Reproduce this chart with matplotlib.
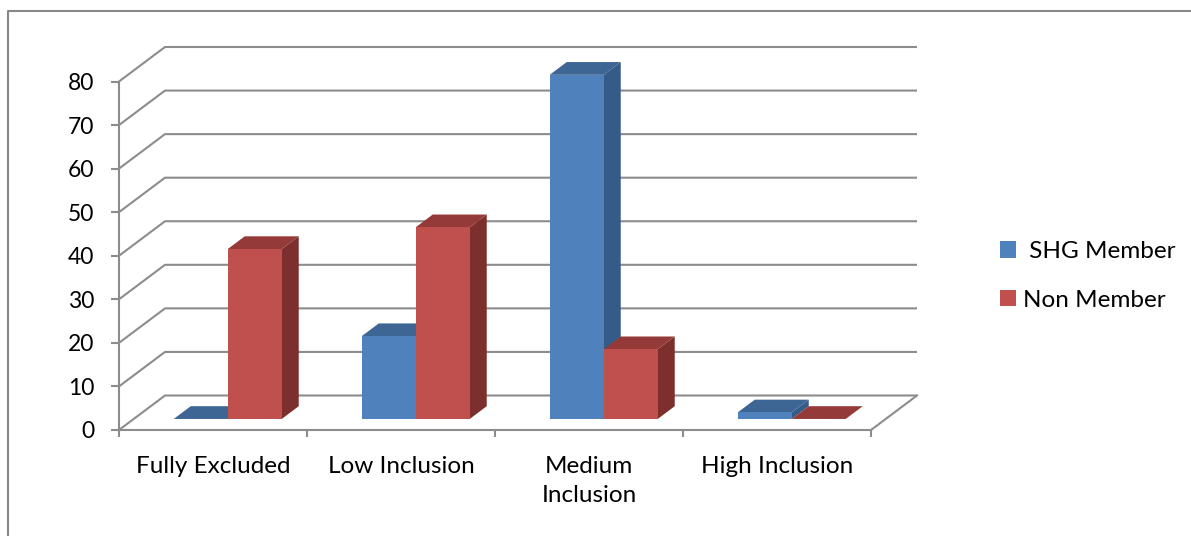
import matplotlib
matplotlib.use('Agg')
import matplotlib.pyplot as plt
from matplotlib.patches import Polygon, Patch
from matplotlib.lines import Line2D

# chart data
categories = ['Fully Excluded', 'Low Inclusion', 'Medium\nInclusion', 'High Inclusion']
shg_member = [0, 19, 79, 1.5]
non_member = [39, 44, 16, 0]
y_ticks = [0, 10, 20, 30, 40, 50, 60, 70, 80]
series_names = [' SHG Member', 'Non Member']

plt.rcParams['font.family'] = ['Lato', 'DejaVu Sans']
plt.rcParams['font.size'] = 17

W, H = 1191, 536
fig = plt.figure(figsize=(W / 100, H / 100), dpi=100)
ax = fig.add_axes([0, 0, 1, 1])

# pixel layout of the plot box (front axis x 119..871, value 0 at y 430, 80 at y 81.5)
x0_px, x1_px = 119, 871
y0_px, y80_px = 430, 81.5
ux = len(categories) / (x1_px - x0_px)       # category units per pixel
uy = (y0_px - y80_px) / 80.0                 # pixels per value unit
ax.set_xlim(-x0_px * ux, (W - x0_px) * ux)
ax.set_ylim(-(H - y0_px) / uy, y0_px / uy)

# depth of the 3d box
ddx = 46 * ux
ddy = 34.5 / uy
grid_col = '#8c8c8c'
lw = 1.5

# back wall gridlines with the left-wall diagonal
n = len(categories)
for g in y_ticks:
    ax.plot([0, ddx, n + ddx], [g, g + ddy, g + ddy], color=grid_col, lw=lw,
            solid_capstyle='butt', zorder=1)
# floor right edge
ax.plot([n, n + ddx], [0, ddy], color=grid_col, lw=lw, zorder=1)

# bars
f0, f1 = 0.32, 0.69
bw = 54 * ux
colors = [('#4F81BD', '#3D6694', '#355B88'), ('#C0504D', '#943A38', '#7C2F2D')]
for i in range(n):
    for s, vals in enumerate([shg_member, non_member]):
        v = vals[i]
        front, top, side = colors[s]
        xl = i + 0.5 + f0 * ddx + (s - 1) * bw
        xr = xl + bw
        yb = f0 * ddy
        yt = yb + v
        bx = (f1 - f0) * ddx
        by = (f1 - f0) * ddy
        ax.add_patch(Polygon([(xr, yb), (xr, yt), (xr + bx, yt + by), (xr + bx, yb + by)],
                             closed=True, facecolor=side, edgecolor='none', zorder=3))
        ax.add_patch(Polygon([(xl, yt), (xr, yt), (xr + bx, yt + by), (xl + bx, yt + by)],
                             closed=True, facecolor=top, edgecolor='none', zorder=3))
        ax.add_patch(Polygon([(xl, yb), (xr, yb), (xr, yt), (xl, yt)],
                             closed=True, facecolor=front, edgecolor='none', zorder=3))

# front axes
for sp in ['top', 'right']:
    ax.spines[sp].set_visible(False)
ax.spines['left'].set_position(('data', 0))
ax.spines['left'].set_bounds(0, 80)
ax.spines['bottom'].set_position(('data', 0))
ax.spines['bottom'].set_bounds(0, n)
for sp in ['left', 'bottom']:
    ax.spines[sp].set_color(grid_col)
    ax.spines[sp].set_linewidth(lw)
    ax.spines[sp].set_zorder(2)

ax.set_yticks(y_ticks)
ax.set_yticklabels([str(t) for t in y_ticks])
ax.tick_params(axis='y', length=6, width=lw, color=grid_col, pad=12, labelsize=16.5)
ax.set_xticks(range(n + 1))
ax.set_xticklabels([''] * (n + 1))
ax.set_xticks([i + 0.5 for i in range(n)], minor=True)
ax.set_xticklabels(categories, minor=True, linespacing=1.45)
ax.tick_params(axis='x', which='major', length=5, width=lw, color=grid_col, direction='out')
ax.tick_params(axis='x', which='minor', length=0, pad=19, labelsize=17.5)

# legend
handles = [Patch(facecolor=colors[0][0]), Patch(facecolor=colors[1][0])]
fig.legend(handles, series_names, loc='center left',
           bbox_to_anchor=(1000 / W, 1 - 276 / H), frameon=False,
           borderpad=0, borderaxespad=0, handlelength=0.64, handleheight=0.64,
           handletextpad=0.3, labelspacing=1.15, fontsize=17.5)

# outer chart frame (left and top edges)
fig.add_artist(Line2D([8 / W, 8 / W, 1], [0, 1 - 11 / H, 1 - 11 / H],
                      transform=fig.transFigure, color='#878787', lw=1.5))

fig.savefig('out.png', dpi=100)
